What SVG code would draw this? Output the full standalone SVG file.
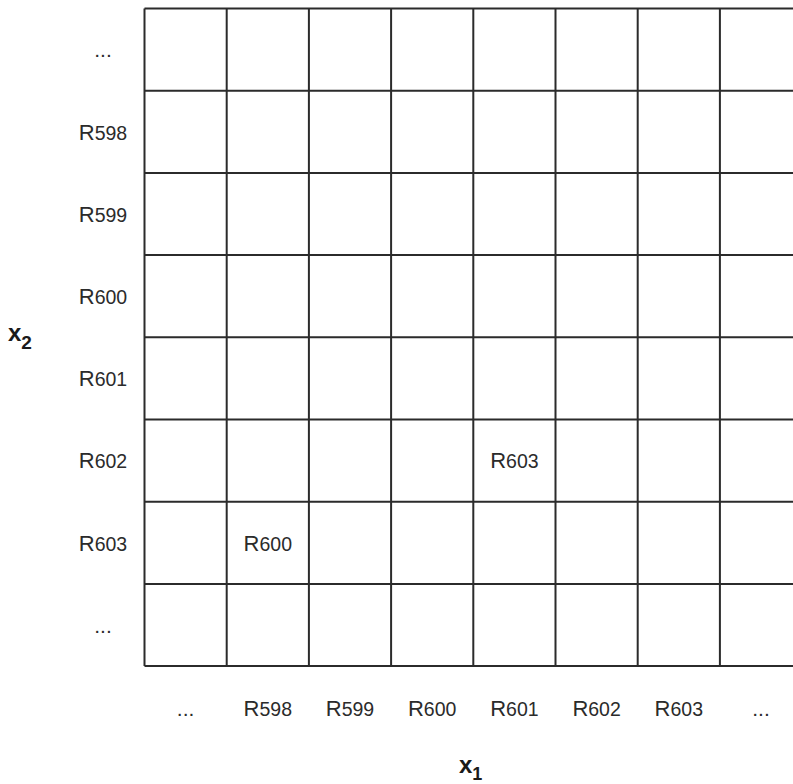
<svg xmlns="http://www.w3.org/2000/svg" width="793" height="784" viewBox="0 0 793 784">
<style>
.g{stroke:#2b2b2b;stroke-width:2;fill:none}
.t{font-family:"Liberation Sans",Arial,sans-serif;fill:#2b2b2b;text-anchor:middle}
.R{font-size:22px}
.d{font-size:19.5px}
.e{font-size:21px}
.ax{font-family:"Liberation Sans",Arial,sans-serif;fill:#1a1a1a;font-weight:bold}
</style>
<rect width="793" height="784" fill="#fff"/>
<g id="grid" class="g">
<path d="M144.5 8.5H793M144.5 90.7H793M144.5 172.9H793M144.5 255.1H793M144.5 337.3H793M144.5 419.5H793M144.5 501.7H793M144.5 583.9H793M144.5 666.1H793"/>
<path d="M144.5 8.5V666.1M226.7 8.5V666.1M308.9 8.5V666.1M391.1 8.5V666.1M473.3 8.5V666.1M555.5 8.5V666.1M637.7 8.5V666.1M719.9 8.5V666.1"/>
</g>
<g id="rowlabels" class="t">
<text x="103" y="57" class="e">...</text>
<text x="103" y="139.5"><tspan class="R">R</tspan><tspan class="d">598</tspan></text>
<text x="103" y="221.7"><tspan class="R">R</tspan><tspan class="d">599</tspan></text>
<text x="103" y="303.9"><tspan class="R">R</tspan><tspan class="d">600</tspan></text>
<text x="103" y="386.1"><tspan class="R">R</tspan><tspan class="d">601</tspan></text>
<text x="103" y="468.3"><tspan class="R">R</tspan><tspan class="d">602</tspan></text>
<text x="103" y="550.5"><tspan class="R">R</tspan><tspan class="d">603</tspan></text>
<text x="103" y="632.7" class="e">...</text>
</g>
<g id="collabels" class="t">
<text x="185.6" y="716" class="e">...</text>
<text x="267.8" y="716"><tspan class="R">R</tspan><tspan class="d">598</tspan></text>
<text x="350" y="716"><tspan class="R">R</tspan><tspan class="d">599</tspan></text>
<text x="432.2" y="716"><tspan class="R">R</tspan><tspan class="d">600</tspan></text>
<text x="514.4" y="716"><tspan class="R">R</tspan><tspan class="d">601</tspan></text>
<text x="596.6" y="716"><tspan class="R">R</tspan><tspan class="d">602</tspan></text>
<text x="678.8" y="716"><tspan class="R">R</tspan><tspan class="d">603</tspan></text>
<text x="761" y="716" class="e">...</text>
</g>
<g id="cells" class="t">
<text x="514.4" y="468.3"><tspan class="R">R</tspan><tspan class="d">603</tspan></text>
<text x="267.8" y="550.5"><tspan class="R">R</tspan><tspan class="d">600</tspan></text>
</g>
<g id="axes">
<text class="ax" x="8" y="341" font-size="24">x<tspan font-size="19" dy="8">2</tspan></text>
<text class="ax" x="459" y="773" font-size="24">x<tspan font-size="18" dy="7">1</tspan></text>
</g>
</svg>
